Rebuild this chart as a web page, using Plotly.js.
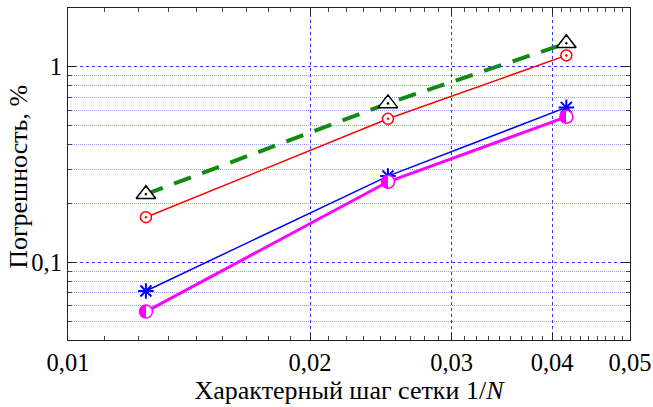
<!DOCTYPE html>
<html>
<head>
<meta charset="utf-8">
<script src="https://cdn.plot.ly/plotly-3.0.1.min.js"></script>
<style>html,body{margin:0;padding:0;background:#fff}#chart{width:653px;height:407px}</style>
</head>
<body>
<div id="chart"></div>
<script>
// Data
var stepX = [0.0125, 0.025, 0.041667];              // 1/N
var errTriangle = [0.223, 0.650, 1.32];             // green dashed, open triangles
var errCircle = [0.170, 0.542, 1.144];              // red, open circles with dot
var errStar = [0.0713, 0.276, 0.620];               // blue, asterisks
var errHalf = [0.0559, 0.258, 0.555];               // magenta, half-filled circles

var xTickVals = [0.01, 0.02, 0.03, 0.04, 0.05];
var xTickText = ['0,01', '0,02', '0,03', '0,04', '0,05'];
var yTickVals = [0.1, 1];
var yTickText = ['0,1', '1'];
var yMinorVals = [0.05, 0.06, 0.07, 0.08, 0.09, 0.2, 0.3, 0.4, 0.5, 0.6, 0.7, 0.8, 0.9];
var xTitle = 'Характерный шаг сетки 1/<i>N</i>';
var yTitle = 'Погрешность, %';

var xMinorVals = [];
for (var n = 1; n <= 4; n++) {
  for (var k = 1; k <= 8; k++) xMinorVals.push(0.01 * (n + k / 9));
}

var traces = [
  {
    x: stepX, y: errTriangle, mode: 'lines+markers', type: 'scatter',
    line: {color: '#128a12', width: 4, dash: '18px,12px'},
    marker: {symbol: 'triangle-up-dot', size: 17, color: 'white', line: {color: 'black', width: 1.5}}
  },
  {
    x: stepX, y: errCircle, mode: 'lines+markers', type: 'scatter',
    line: {color: '#ff0000', width: 1.5},
    marker: {symbol: 'circle-dot', size: 11, color: 'white', line: {color: '#ff0000', width: 1.5}}
  },
  {
    x: stepX, y: errStar, mode: 'lines+markers', type: 'scatter',
    line: {color: '#0000ff', width: 1.5},
    marker: {symbol: 'asterisk-open', size: 13, color: '#0000ff', line: {color: '#0000ff', width: 2}}
  },
  {
    x: stepX, y: errHalf, mode: 'lines+markers', type: 'scatter',
    line: {color: '#ff00ff', width: 3},
    marker: {symbol: 'circle', size: 13, color: '#ff00ff', gradient: {type: 'horizontal', color: 'white'},
             line: {color: '#ff00ff', width: 1.5}}
  }
];

var titleFont = {family: '"Liberation Serif", "Times New Roman", serif', size: 26, color: '#000'};
var tickFont = {family: '"Liberation Serif", "Times New Roman", serif', size: 24.5, color: '#000'};

var layout = {
  width: 653, height: 407,
  margin: {l: 68, r: 23, t: 8, b: 67},
  paper_bgcolor: 'white', plot_bgcolor: 'white',
  showlegend: false,
  font: titleFont,
  xaxis: {
    type: 'log', range: [Math.log10(0.01), Math.log10(0.05)],
    tickmode: 'array', tickvals: xTickVals, ticktext: xTickText,
    ticks: 'inside', ticklen: 7, tickwidth: 1, tickcolor: '#222',
    showline: true, linecolor: '#222', linewidth: 1.2, mirror: 'allticks',
    showgrid: true, gridcolor: 'rgba(0,0,255,0.8)', gridwidth: 1, griddash: 'dot',
    zeroline: false, tickfont: tickFont,
    minor: {tickmode: 'array', tickvals: xMinorVals, ticks: 'inside', ticklen: 4, tickwidth: 1, tickcolor: '#444', showgrid: false},
    title: {text: xTitle, font: titleFont, standoff: 1}
  },
  yaxis: {
    type: 'log', range: [Math.log10(0.04), Math.log10(2)],
    tickmode: 'array', tickvals: yTickVals, ticktext: yTickText,
    ticks: 'inside', ticklen: 8, tickwidth: 1, tickcolor: '#222',
    showline: true, linecolor: '#222', linewidth: 1.2, mirror: 'allticks',
    showgrid: true, gridcolor: 'rgba(0,0,255,0.8)', gridwidth: 1, griddash: 'dot',
    zeroline: false, tickfont: tickFont,
    minor: {tickmode: 'array', tickvals: yMinorVals, ticks: 'inside', ticklen: 4, tickwidth: 1, tickcolor: '#444',
            showgrid: true, gridcolor: 'rgba(80,80,235,0.55)', gridwidth: 1, griddash: '1px,1px'}
  },
  annotations: [{
    text: yTitle, xref: 'paper', yref: 'paper', x: -0.088, y: 0.49,
    xanchor: 'center', yanchor: 'middle', textangle: -90, showarrow: false, font: titleFont
  }]
};

Plotly.newPlot('chart', traces, layout, {staticPlot: true}).then(function (gd) {
  var grads = gd.querySelectorAll('linearGradient');
  grads.forEach(function (g) {
    var stops = g.querySelectorAll('stop');
    if (stops.length === 2) {
      stops[0].setAttribute('offset', '50%');
      stops[1].setAttribute('offset', '50%');
    }
  });
});
</script>
</body>
</html>
